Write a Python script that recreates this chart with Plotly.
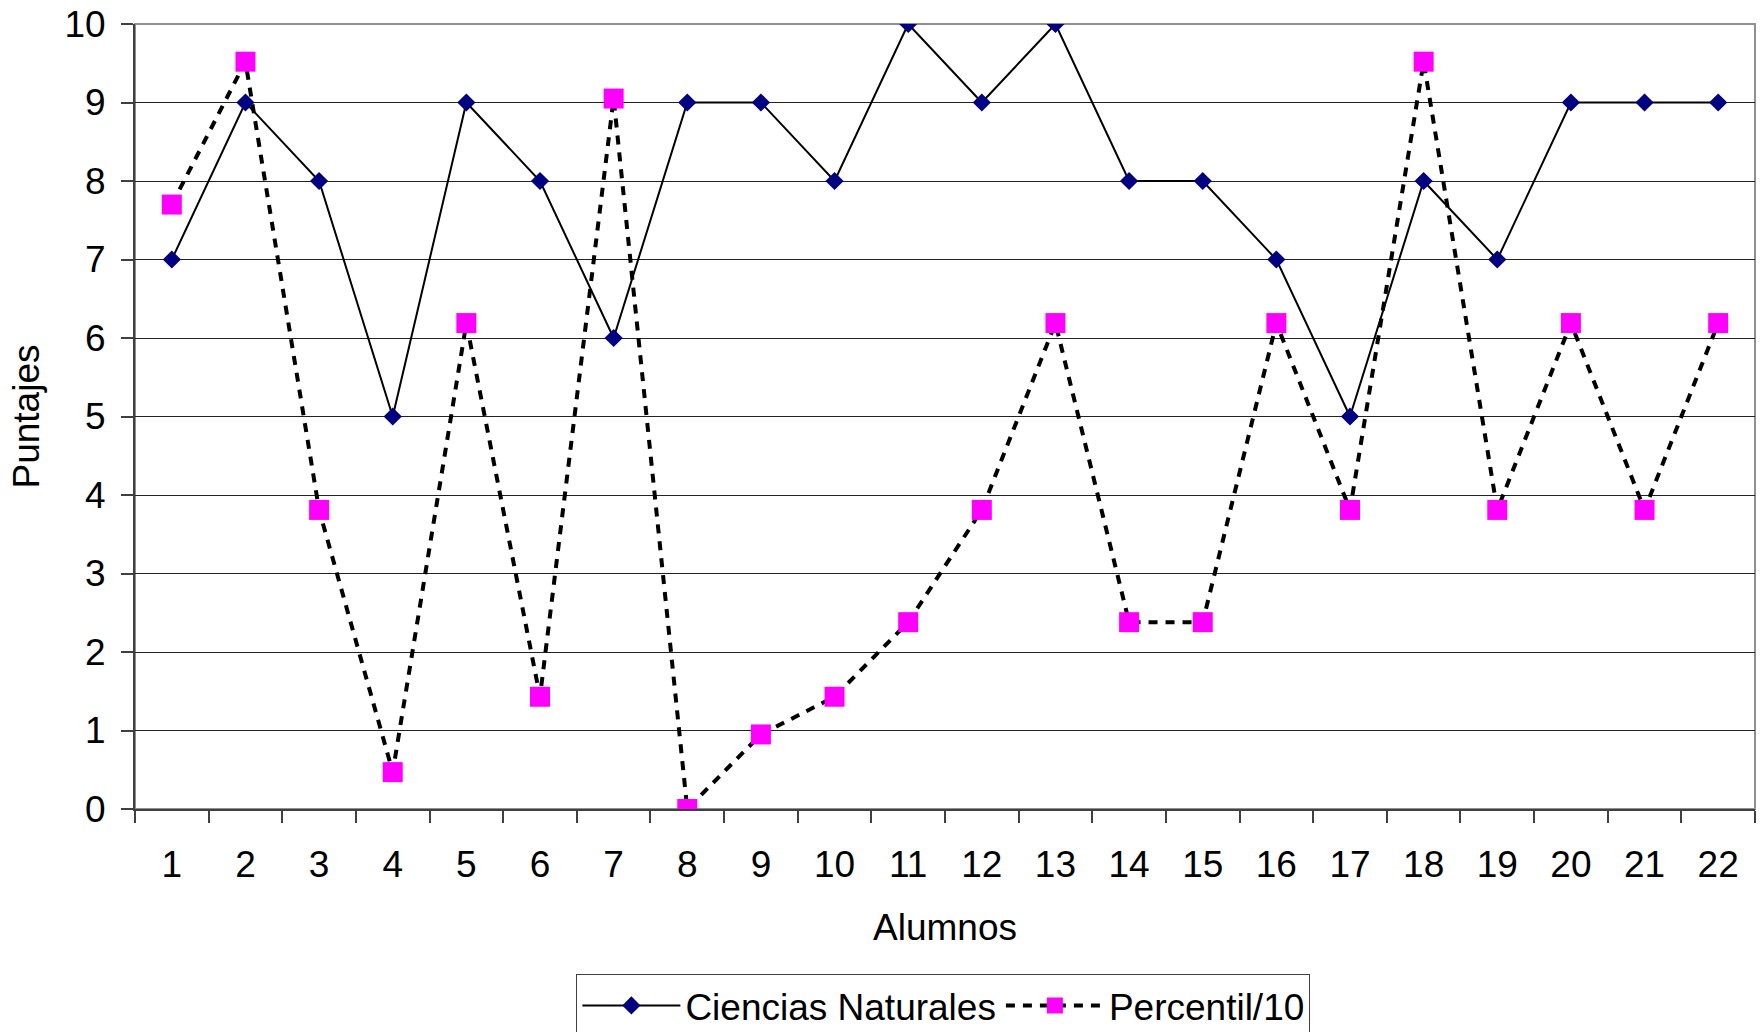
import plotly.graph_objects as go

alumnos = list(range(1, 23))
ciencias = [7, 9, 8, 5, 9, 8, 6, 9, 9, 8, 10, 9, 10, 8, 8, 7, 5, 8, 7, 9, 9, 9]
percentil10 = [7.7, 9.52, 3.81, 0.47, 6.19, 1.43, 9.05, 0, 0.95, 1.43, 2.38, 3.81,
               6.19, 2.38, 2.38, 6.19, 3.81, 9.52, 3.81, 6.19, 3.81, 6.19]
y_ticks = list(range(0, 11))

FONT = "Liberation Sans, Arial, sans-serif"
FS = 37

fig = go.Figure()
fig.add_trace(go.Scatter(
    x=alumnos, y=percentil10, name="Percentil/10", mode="lines+markers",
    line=dict(color="black", width=4, dash="9px,8px"),
    marker=dict(symbol="square", size=20, color="#ff00ff"),
))
fig.add_trace(go.Scatter(
    x=alumnos, y=ciencias, name="Ciencias Naturales", mode="lines+markers",
    line=dict(color="black", width=2),
    marker=dict(symbol="diamond", size=14, color="#000080"),
))

fig.add_shape(type="rect", xref="paper", yref="paper", x0=0, x1=1, y0=0, y1=1,
              line=dict(color="#909090", width=2), layer="below")

fig.update_layout(
    width=1762, height=1032,
    margin=dict(l=135, r=7, t=24, b=223, autoexpand=False),
    paper_bgcolor="white", plot_bgcolor="white",
    font=dict(family=FONT, size=FS, color="black"),
    showlegend=True,
    legend=dict(orientation="h", x=0.499, xanchor="center", y=-0.21, yanchor="top",
                bordercolor="#404040", borderwidth=1, traceorder="reversed",
                font=dict(size=FS, family=FONT), itemwidth=98),
    xaxis=dict(
        range=[0.5, 22.5], tickvals=alumnos, ticktext=[str(a) for a in alumnos],
        ticks="", showgrid=False, zeroline=False, automargin=False,
        showline=True, linecolor="#404040", linewidth=2,
        ticklabelstandoff=22,
        minor=dict(tickvals=[a + 0.5 for a in [0] + alumnos], ticks="outside",
                   ticklen=12, tickcolor="#404040", tickwidth=2, showgrid=False),
        title=dict(text="Alumnos", standoff=30, font=dict(size=FS)),
    ),
    yaxis=dict(
        range=[0, 10], tickvals=y_ticks, ticks="outside", ticklen=12,
        tickcolor="#404040", tickwidth=2, automargin=False,
        showgrid=True, gridcolor="#222222", gridwidth=1, zeroline=False,
        showline=True, linecolor="#404040", linewidth=2,
        ticklabelstandoff=8,
        title=dict(text="Puntajes", standoff=13, font=dict(size=FS)),
    ),
)

fig.write_html(
    "out.html",
    config={"displayModeBar": False},
    post_script="document.body.style.margin='0';document.body.style.overflow='hidden';",
)
